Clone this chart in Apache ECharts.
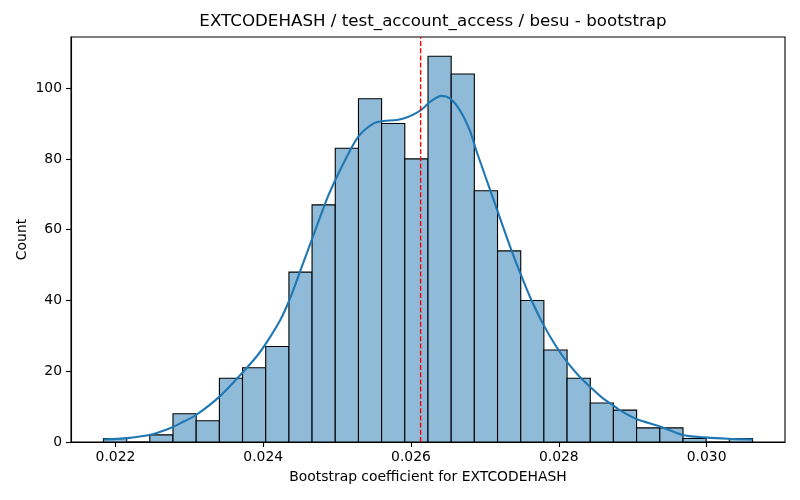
<!DOCTYPE html>
<html>
<head>
<meta charset="utf-8">
<script src="https://cdn.jsdelivr.net/npm/echarts@6/dist/echarts.min.js"></script>
<style>
html,body{margin:0;padding:0;background:#fff;}
#chart{width:800px;height:500px;}
</style>
</head>
<body>
<div id="chart"></div>
<script>
// ---- data ----
const binEdges = [0.021838, 0.022152, 0.022465, 0.022779, 0.023093, 0.023407, 0.023720,
  0.024034, 0.024348, 0.024661, 0.024975, 0.025289, 0.025602, 0.025916, 0.026230,
  0.026544, 0.026857, 0.027171, 0.027485, 0.027798, 0.028112, 0.028426, 0.028739,
  0.029053, 0.029367, 0.029681, 0.029994, 0.030308, 0.030622];
const binCounts = [1, 0, 2, 8, 6, 18, 21, 27, 48, 67, 83, 97, 90, 80, 109, 104, 71, 54,
  40, 26, 18, 11, 9, 4, 4, 1, 0, 1];
const kdeX = [0.021838, 0.022162, 0.022486, 0.022746, 0.022926, 0.023097, 0.023412, 0.023714,
  0.023916, 0.024042, 0.024231, 0.024356, 0.024524, 0.024672, 0.024829, 0.024905, 0.025085,
  0.025287, 0.02549, 0.025625, 0.025806, 0.02594, 0.026075, 0.026165, 0.026255, 0.026413,
  0.026525, 0.02666, 0.026795, 0.026885, 0.026997, 0.027132, 0.027357, 0.027492, 0.027627,
  0.027793, 0.027965, 0.028108, 0.028279, 0.028418, 0.028594, 0.028729, 0.028819, 0.029052,
  0.029368, 0.029673, 0.02998, 0.03029, 0.030623];
const kdeY = [0.7, 1.1, 2.1, 3.95, 5.8, 7.7, 12.9, 19.5, 24.3, 28.0, 34.5, 40.2, 49.6, 58.0,
  66.9, 70.8, 78.7, 86.3, 90.0, 90.7, 91.0, 91.7, 93.0, 94.3, 96.1, 97.8, 97.1, 93.8, 88.1,
  82.3, 75.6, 67.6, 54.3, 47.0, 40.2, 33.1, 27.0, 22.7, 18.5, 15.7, 12.4, 10.5, 9.1, 6.5,
  4.4, 2.0, 1.3, 0.9, 0.7];
const refLineX = 0.02613;
const xTicks = [0.022, 0.024, 0.026, 0.028, 0.030];
const yTicks = [0, 20, 40, 60, 80, 100];
const titleText = 'EXTCODEHASH / test_account_access / besu - bootstrap';
const xLabel = 'Bootstrap coefficient for EXTCODEHASH';
const yLabel = 'Count';

// ---- derived ----
const xSpan = binEdges[binEdges.length - 1] - binEdges[0];
const xMin = binEdges[0] - 0.05 * xSpan;
const xMax = binEdges[binEdges.length - 1] + 0.05 * xSpan;
const yMax = Math.max.apply(null, binCounts) * 1.05;

const barData = binCounts.map((c, i) => [binEdges[i], binEdges[i + 1], c]);
const kdeData = kdeX.map((x, i) => [x, kdeY[i]]);

const font = 'DejaVu Sans';
const chart = echarts.init(document.getElementById('chart'), null, {renderer: 'canvas'});
chart.setOption({
  animation: false,
  backgroundColor: '#fff',
  title: {
    text: titleText,
    left: 428, top: 8.5, textAlign: 'center',
    textStyle: {fontFamily: font, fontSize: 16.7, fontWeight: 'normal', color: '#000'}
  },
  grid: {left: 71, right: 15, top: 37, bottom: 58, show: true,
    borderColor: '#000', borderWidth: 1.1, backgroundColor: 'transparent'},
  xAxis: {
    type: 'value', min: xMin, max: xMax,
    name: xLabel, nameLocation: 'middle', nameGap: 28, nameMoveOverlap: false,
    nameTextStyle: {fontFamily: font, fontSize: 13.9, color: '#000'},
    axisLine: {show: true, onZero: false, lineStyle: {color: '#000', width: 1.1}},
    axisTick: {show: true, length: 5, customValues: xTicks, lineStyle: {color: '#000', width: 1.1}},
    axisLabel: {customValues: xTicks, margin: 8.5, fontFamily: font, fontSize: 13.9, color: '#000',
      formatter: v => v.toFixed(3)},
    splitLine: {show: false}
  },
  yAxis: {
    type: 'value', min: 0, max: yMax,
    name: yLabel, nameLocation: 'middle', nameGap: 42, nameMoveOverlap: false,
    nameTextStyle: {fontFamily: font, fontSize: 13.9, color: '#000'},
    axisLine: {show: true, lineStyle: {color: '#000', width: 1.1}},
    axisTick: {show: true, length: 5, customValues: yTicks, lineStyle: {color: '#000', width: 1.1}},
    axisLabel: {customValues: yTicks, margin: 9, fontFamily: font, fontSize: 13.9, color: '#000'},
    splitLine: {show: false}
  },
  series: [
    {
      type: 'custom',
      data: barData,
      encode: {x: [0, 1], y: 2},
      z: 2,
      renderItem: function (params, api) {
        const p0 = api.coord([api.value(0), api.value(2)]);
        const p1 = api.coord([api.value(1), 0]);
        return {
          type: 'rect',
          shape: {x: p0[0], y: p0[1], width: p1[0] - p0[0], height: p1[1] - p0[1]},
          style: {fill: '#8fbbd9', stroke: '#000', lineWidth: 1.1}
        };
      }
    },
    {
      type: 'line',
      data: kdeData,
      smooth: 0.3,
      symbol: 'none',
      z: 3,
      lineStyle: {color: '#1f77b4', width: 2.1}
    },
    {
      type: 'line',
      data: [[refLineX, 0], [refLineX, yMax]],
      symbol: 'none',
      z: 4,
      lineStyle: {color: '#ff0000', width: 1.4, type: [5, 2.2]}
    }
  ]
});
</script>
</body>
</html>
